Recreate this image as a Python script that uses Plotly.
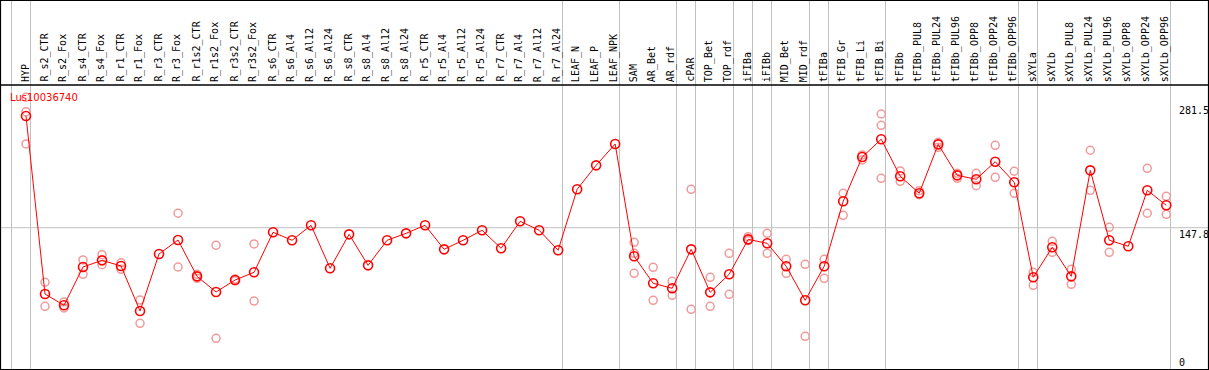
import plotly.graph_objects as go

categories = ["HYP", "R_s2_CTR", "R_s2_Fox", "R_s4_CTR", "R_s4_Fox", "R_r1_CTR", "R_r1_Fox",
              "R_r3_CTR", "R_r3_Fox", "R_r1s2_CTR", "R_r1s2_Fox", "R_r3s2_CTR", "R_r3s2_Fox",
              "R_s6_CTR", "R_s6_Al4", "R_s6_Al12", "R_s6_Al24", "R_s8_CTR", "R_s8_Al4", "R_s8_Al12",
              "R_s8_Al24", "R_r5_CTR", "R_r5_Al4", "R_r5_Al12", "R_r5_Al24", "R_r7_CTR", "R_r7_Al4",
              "R_r7_Al12", "R_r7_Al24", "LEAF_N", "LEAF_P", "LEAF_NPK", "SAM", "AR_Bet", "AR_rdf",
              "cPAR", "TOP_Bet", "TOP_rdf", "iFIBa", "iFIBb", "MID_Bet", "MID_rdf", "tFIBa",
              "tFIB_Gr", "tFIB_Li", "tFIB_Bi", "tFIBb", "tFIBb_PUL8", "tFIBb_PUL24", "tFIBb_PUL96",
              "tFIBb_OPP8", "tFIBb_OPP24", "tFIBb_OPP96", "sXYLa", "sXYLb", "sXYLb_PUL8",
              "sXYLb_PUL24", "sXYLb_PUL96", "sXYLb_OPP8", "sXYLb_OPP24", "sXYLb_OPP96"]

mean_values = [268.5, 76.1, 63.9, 105.3, 112.5, 106.4, 57.7, 119.4, 134.5, 95.2, 78.3, 91.2, 99.6,
               142.8, 134.2, 150.4, 103.9, 140.6, 107.1, 134.2, 141.7, 150.4, 124.4, 134.2, 145.0,
               125.5, 154.7, 145.0, 123.4, 189.3, 215.2, 238.3, 116.9, 87.7, 82.3, 124.4, 77.9,
               97.4, 135.2, 130.9, 106.1, 69.3, 106.1, 176.3, 224.2, 243.4, 203.4, 185.0, 237.9,
               204.4, 200.1, 219.1, 196.9, 94.2, 126.6, 95.2, 209.8, 134.2, 127.7, 188.2, 172.0]

rep1 = [288.8, 88.8, 67.5, 112.9, 118.6, 109.9, 69.6, None, 163.4, 97.4, 128.8, 92.3, 130.2,
        None, None, None, None, None, None, None, None, None, None, None, None, None, None,
        None, None, None, None, None, 132.0, 105.0, 89.8, 189.3, 94.2, 120.1, 138.1, 141.7,
        113.6, 108.2, 113.6, 185.0, 226.4, 270.7, 209.1, 187.8, 240.1, 206.6, 206.6, 236.9,
        208.8, 99.6, 133.1, 102.8, 231.5, 148.2, None, 212.0, 181.7]
rep2 = [273.2, 62.8, 61.0, 97.4, 107.8, 102.8, 44.4, None, 105.3, 93.1, 28.2, 90.5, 68.5,
        None, None, None, None, None, None, None, None, None, None, None, None, None, None,
        None, None, None, None, None, 98.5, 69.3, 74.7, 59.6, 62.8, 75.8, 133.7, 120.1,
        98.5, 30.4, 93.1, 161.2, 221.0, 201.2, 197.9, 183.5, 234.7, 201.2, 193.2, 202.3,
        185.0, 85.5, 121.2, 86.6, 188.2, 121.2, None, 163.4, 162.3]
rep3 = [238.3, None, None, None, None, None, None, None, None, None, None, None, None,
        None, None, None, None, None, None, None, None, None, None, None, None, None, None,
        None, None, None, None, None, 120.1, None, None, None, None, None, None, None,
        None, None, None, None, None, 258.5, None, None, None, None, None, None,
        None, None, None, None, None, None, None, None, None]

group_sizes = [1, 28, 3, 3, 1, 2, 1, 1, 2, 1, 3, 7, 1, 7]

title_text = "Lus10036740"
ytick_vals = [281.5, 147.8, 0]
ytick_text = ["281.5", "147.8", "0"]

# ---- layout geometry ----
W, H = 1209, 370
ML, MR, MT, MB = 1, 1, 85, 1
PW = W - ML - MR
PH = H - MT - MB
XR = [-1.3154, 62.195]
YR = [-4.97, 302.05]

def xpaper_from_px(px):
    return (px - ML) / PW

def ypaper_from_px(py):
    return (H - MB - py) / PH

def xpx_from_data(v):
    return ML + (v - XR[0]) / (XR[1] - XR[0]) * PW

xs = list(range(len(categories)))

fig = go.Figure()

rep_color = "#f09a9a"
for reps in (rep1, rep2, rep3):
    fig.add_trace(go.Scatter(
        x=xs, y=reps, mode="markers",
        marker=dict(symbol="circle-open", size=8, color=rep_color, line=dict(width=1.5, color=rep_color)),
        showlegend=False, hoverinfo="skip"))

fig.add_trace(go.Scatter(
    x=xs, y=mean_values, mode="lines+markers",
    line=dict(color="#ff0000", width=1),
    marker=dict(symbol="circle-open", size=9, color="#ff0000", line=dict(width=1.6, color="#ff0000")),
    showlegend=False, name=title_text))

shapes = []
# horizontal grid line at middle tick
shapes.append(dict(type="line", xref="paper", yref="y", x0=0, x1=1, y0=ytick_vals[1], y1=ytick_vals[1],
                   line=dict(color="#c0c0c0", width=1), layer="below"))
# group separators
bounds = [-1]
acc = -1
for g in group_sizes:
    acc += g
    bounds.append(acc)
for b in bounds:
    px = round(xpx_from_data(b + 0.2105)) + 0.5
    xp = xpaper_from_px(px)
    shapes.append(dict(type="line", xref="paper", yref="paper", x0=xp, x1=xp,
                       y0=0, y1=ypaper_from_px(0), line=dict(color="#c0c0c0", width=1), layer="below"))
# header separator line
shapes.append(dict(type="line", xref="paper", yref="paper", x0=xpaper_from_px(0), x1=xpaper_from_px(W),
                   y0=1, y1=1, line=dict(color="black", width=1.5)))
# outer border
shapes.append(dict(type="rect", xref="paper", yref="paper",
                   x0=xpaper_from_px(0.5), x1=xpaper_from_px(W - 0.5),
                   y0=ypaper_from_px(H - 0.5), y1=ypaper_from_px(0.5),
                   line=dict(color="black", width=1.2), fillcolor="rgba(0,0,0,0)"))

annotations = []
for i, c in enumerate(categories):
    annotations.append(dict(x=i, xref="x", y=1, yref="paper", yshift=1, xshift=-1,
                            text=c, showarrow=False, textangle=-90,
                            xanchor="center", yanchor="bottom",
                            font=dict(family="DejaVu Sans Mono", size=10, color="black")))

tick_x = xpaper_from_px(1177)
for v, t in zip(ytick_vals, ytick_text):
    annotations.append(dict(x=tick_x, xref="paper", y=v, yref="y", text=t, showarrow=False,
                            xanchor="left", yanchor=("bottom" if v == 0 else "top"),
                            yshift=(-6 if v == 0 else 1),
                            font=dict(family="DejaVu Sans Mono", size=10, color="black")))

annotations.append(dict(x=xpaper_from_px(8), xref="paper", y=ypaper_from_px(97), yref="paper",
                        text=title_text, showarrow=False, xanchor="left", yanchor="middle",
                        font=dict(family="DejaVu Sans", size=10, color="#ff0000")))

fig.update_layout(
    width=W, height=H,
    margin=dict(l=ML, r=MR, t=MT, b=MB, pad=0),
    paper_bgcolor="white", plot_bgcolor="white",
    xaxis=dict(range=XR, showgrid=False, zeroline=False, showticklabels=False, ticks="",
               showline=False, fixedrange=True),
    yaxis=dict(range=YR, showgrid=False, zeroline=False, showticklabels=False, ticks="",
               showline=False, fixedrange=True),
    shapes=shapes, annotations=annotations, showlegend=False,
)

fig.write_html("out.html", config={"displayModeBar": False},
               post_script="document.body.style.margin='0';document.body.style.overflow='hidden';")
